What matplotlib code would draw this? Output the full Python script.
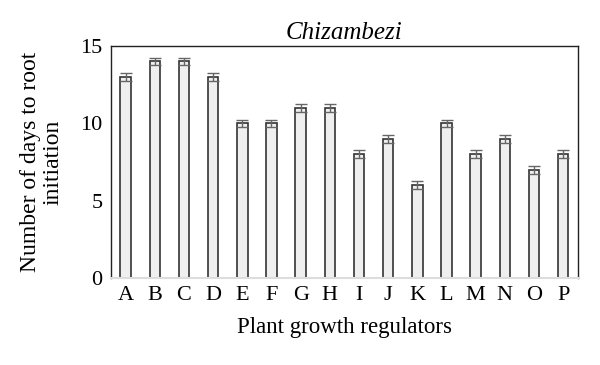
import matplotlib
matplotlib.use('Agg')
import matplotlib.pyplot as plt
import numpy as np

labels = ['A', 'B', 'C', 'D', 'E', 'F', 'G', 'H', 'I', 'J', 'K', 'L', 'M', 'N', 'O', 'P']
days = [13, 14, 14, 13, 10, 10, 11, 11, 8, 9, 6, 10, 8, 9, 7, 8]
err = [0.25] * 16

plt.rcParams['font.family'] = ['Liberation Serif', 'DejaVu Serif']

fig = plt.figure(figsize=(6, 3.65), dpi=100)
ax = fig.add_axes([0.185, 0.238, 0.778, 0.636])

x = np.arange(len(labels))
ax.bar(x, days, width=0.36, color='#efefef', edgecolor='#333333', linewidth=1.2,
       yerr=err, error_kw=dict(ecolor='#666666', elinewidth=1.0, capsize=4.5, capthick=1.0))

ax.set_xlim(-0.5, len(labels) - 0.5)
ax.set_ylim(0, 15)
ax.set_yticks([0, 5, 10, 15])
ax.set_xticks(x)
ax.set_xticklabels(labels)
ax.tick_params(length=0, labelsize=16, pad=6)
for s in ['left', 'top', 'right']:
    ax.spines[s].set_color('#222222')
    ax.spines[s].set_linewidth(1.0)
ax.spines['bottom'].set_color('#dddddd')
ax.spines['bottom'].set_linewidth(1.5)

ax.set_title('Chizambezi', fontsize=18, style='italic', pad=5)
ax.set_xlabel('Plant growth regulators', fontsize=16.5, labelpad=8)
ax.set_ylabel('Number of days to root\ninitiation', fontsize=17, labelpad=12, linespacing=1.1)

fig.savefig('out.png', dpi=100)
